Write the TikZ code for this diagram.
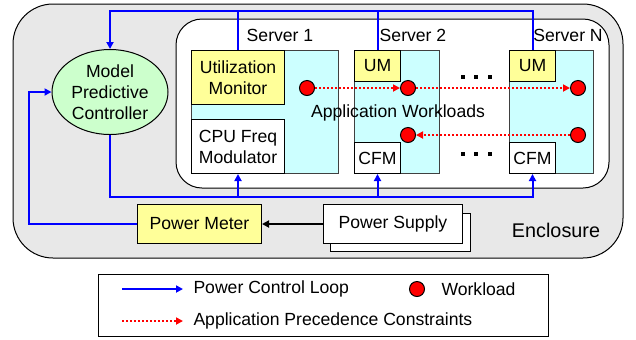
\documentclass[tikz,border=0pt]{standalone}
\usepackage{fontspec}
\setmainfont{Liberation Sans}
\usetikzlibrary{arrows.meta,shapes.geometric}
\definecolor{enclgray}{HTML}{E8E8E8}
\definecolor{umyellow}{HTML}{FFFF99}
\definecolor{srvcyan}{HTML}{CCFFFF}
\definecolor{mpcgreen}{HTML}{CCFFCC}

\begin{document}
\begin{tikzpicture}[x=0.5pt,y=-0.5pt,line width=0.5pt,
  font=\fontsize{8.8}{10.5}\selectfont,
  >={Triangle[length=3.5pt,width=3.5pt]},
  box/.style={draw,anchor=north west,inner sep=0pt,align=center},
  srvbox/.style={box,draw=black!75,fill=srvcyan,minimum height=61.5pt},
  bus/.style={blue,line width=1pt},
  prec/.style={red,line width=1pt,dash pattern=on 1pt off 1pt,->},
  wl/.style={circle,draw,fill=red,minimum size=7.5pt,inner sep=0pt},
  lgtext/.style={anchor=west,inner sep=0pt}]
  \useasboundingbox (0,0) rectangle (636,339);

  % enclosure and server rack
  \draw[fill=enclgray,rounded corners=20pt] (13,4) rectangle (623,258);
  \draw[fill=white,rounded corners=13pt] (176,19) rectangle (609,188);
  \node[font=\fontsize{9.9}{12}\selectfont] (encl) at (556,230) {Enclosure};

  % servers
  \node[srvbox,minimum width=73.5pt] (srv1) at (191,50) {};
  \node[srvbox,minimum width=42.5pt] (srv2) at (354,50) {};
  \node[srvbox,minimum width=42pt] (srvN) at (509,50) {};
  \node (lbl1) at (280,35) {Server 1};
  \node (lbl2) at (413,35) {Server 2};
  \node (lblN) at (568,35) {Server N};

  \node[box,fill=umyellow,minimum width=46.5pt,minimum height=27pt] (um1) at (191,50)
    {Utilization\\Monitor};
  \node[box,fill=white,minimum width=46.5pt,minimum height=27pt] (cfm1) at (191,119)
    {CPU Freq\\Modulator};
  \foreach \s/\x in {2/354,N/509} {
    \node[box,fill=umyellow,minimum width=23pt,minimum height=15.5pt] (um\s) at (\x,50) {UM};
    \node[box,fill=white,minimum width=23pt,minimum height=15.5pt] (cfm\s) at (\x,142) {CFM};
  }
  \foreach \x in {463,476,490}
    \foreach \y in {77,154}
      \fill (\x-2,\y-2) rectangle (\x+2,\y+2);

  % workloads
  \node[wl] (w11) at (307,88) {};
  \node[wl] (w21) at (408,88) {};
  \node[wl] (wN1) at (578,88) {};
  \node[wl] (w22) at (408,135) {};
  \node[wl] (wN2) at (578,135) {};
  \node (appwl) at (398,113) {Application Workloads};
  \draw[prec] (w11) -- (w21);
  \draw[prec] (w21) -- (wN1);
  \draw[prec] (wN2) -- (w22);

  % controller and power path
  \node[ellipse,draw,fill=mpcgreen,minimum width=58pt,minimum height=42.5pt,
    inner sep=0pt,align=center] (mpc) at (110,92) {Model\\Predictive\\Controller};
  \node[box,fill=umyellow,minimum width=62pt,minimum height=19.5pt] (pm) at (137,204)
    {Power Meter};
  \node[box,fill=white,minimum width=70pt,minimum height=19pt] (psback) at (330,213) {};
  \node[box,fill=white,minimum width=69.5pt,minimum height=19.5pt] (ps) at (323,204)
    {Power Supply};
  \draw[->,line width=0.9pt] (ps.west) -- (pm.east);

  \coordinate (topbus) at (0,11);
  \coordinate (botbus) at (0,197);
  \coordinate (leftbus) at (29,0);
  \draw[bus,->] (umN.north) |- (mpc.north |- topbus) -- (mpc.north);
  \foreach \s in {1,2}
    \draw[bus] (um\s.north) -- (um\s.north |- topbus);
  \draw[bus,->] (mpc.south) -- (mpc.south |- botbus) -| (cfmN.south);
  \foreach \s in {1,2}
    \draw[bus,->] (cfm\s.south |- botbus) -- (cfm\s.south);
  \draw[bus,->] (pm.west) -| (leftbus |- mpc.west) -- (mpc.west);

  % legend
  \node[box,minimum width=225pt,minimum height=31pt] (legend) at (98,274) {};
  \coordinate (lg1a) at (122,289);
  \coordinate (lg1b) at (183,289);
  \coordinate (lg2a) at (122,321);
  \coordinate (lg2b) at (183,321);
  \draw[bus,->] (lg1a) -- (lg1b);
  \draw[prec] (lg2a) -- (lg2b);
  \node[lgtext] (lgctrl) at (193,289) {Power Control Loop};
  \node[lgtext] (lgprec) at (193,321) {Application Precedence Constraints};
  \node[wl] (lgwl) at (417,289) {};
  \node[lgtext] (lgwltext) at (441,289) {Workload};
\end{tikzpicture}
\end{document}
